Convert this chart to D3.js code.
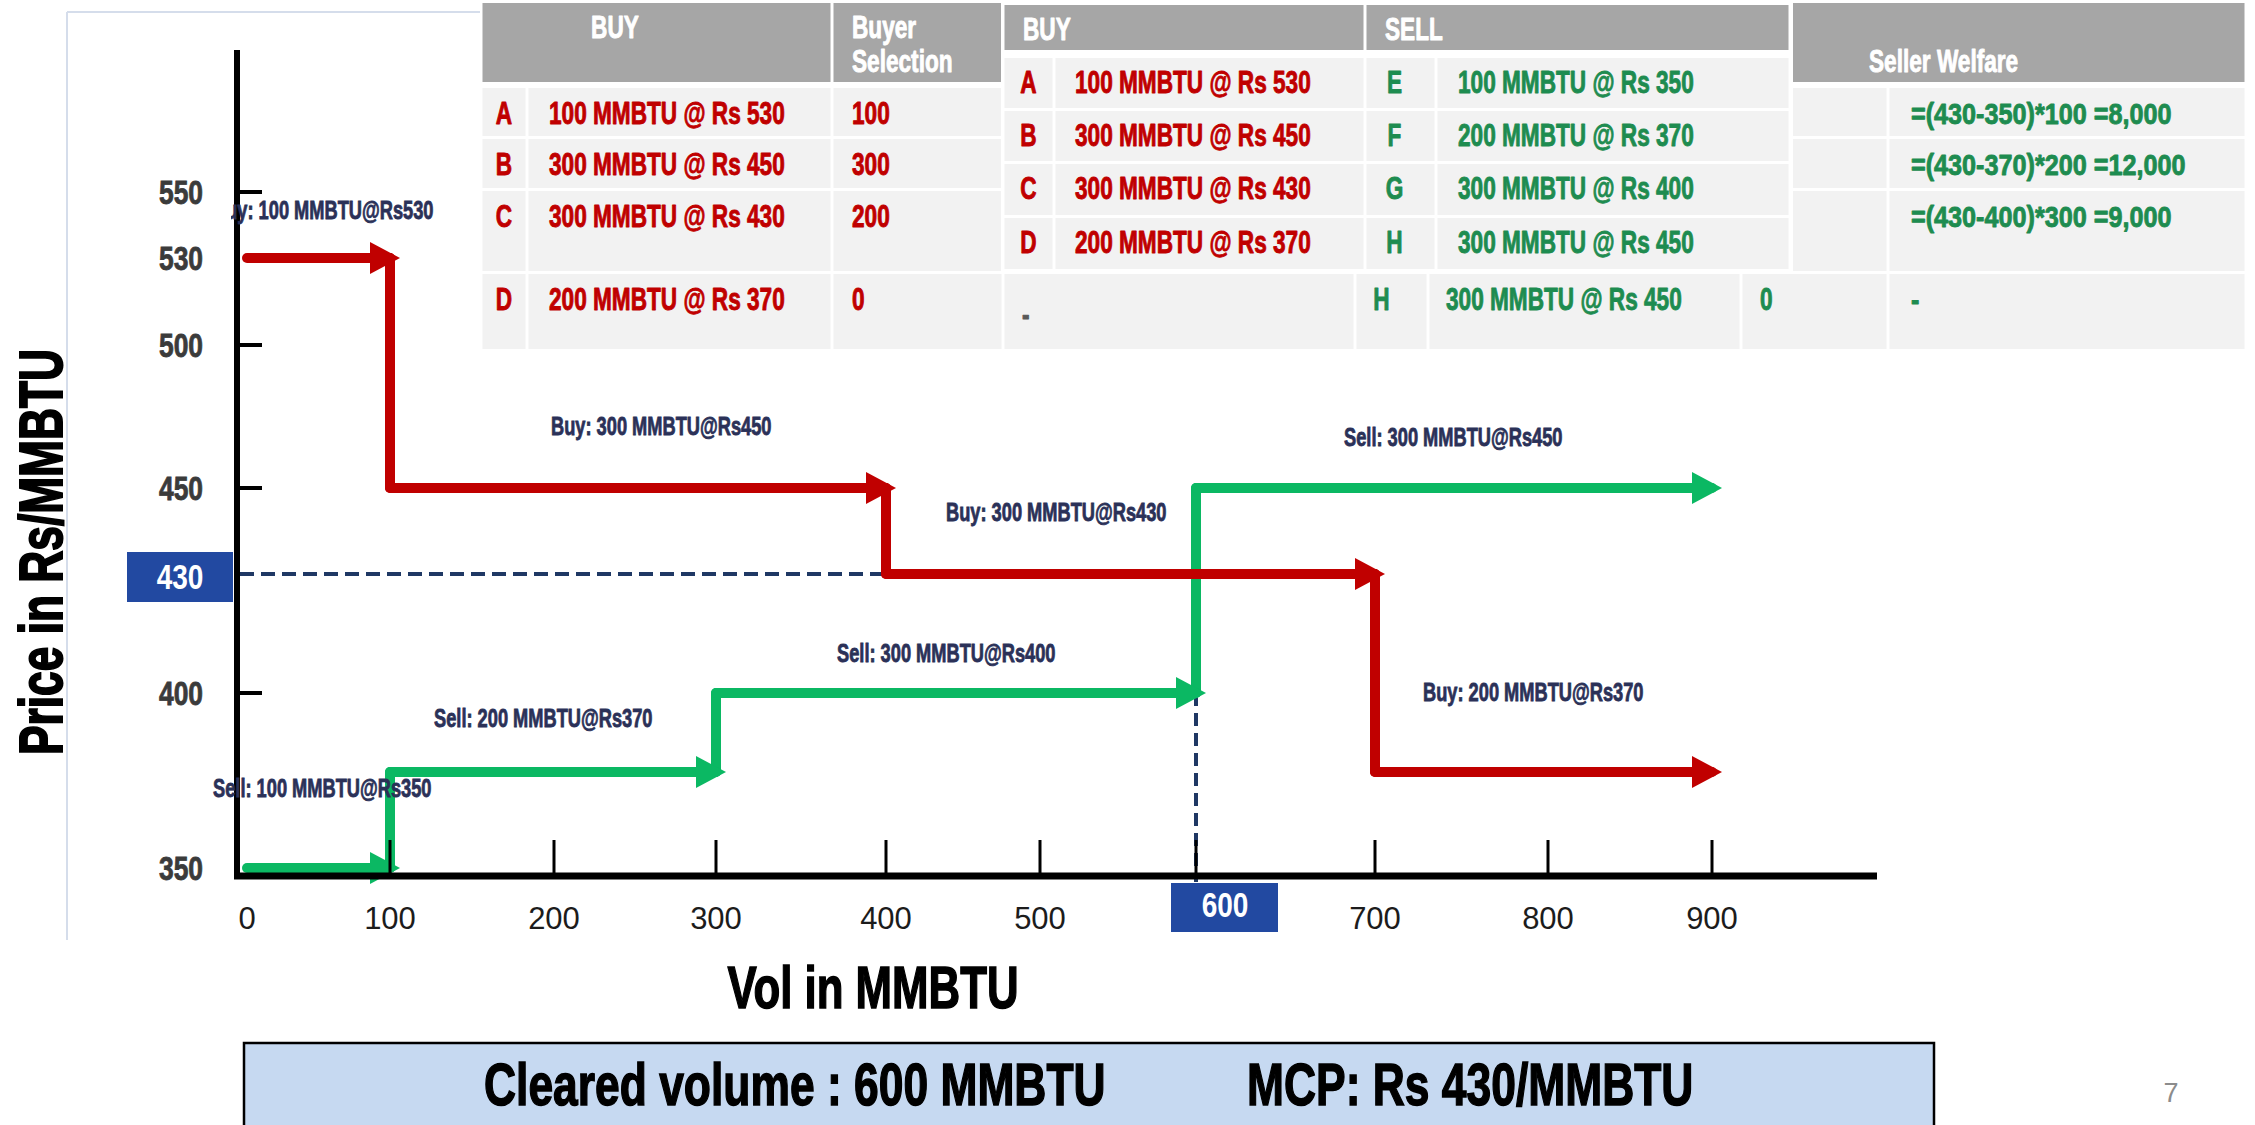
<!DOCTYPE html>
<html>
<head>
<meta charset="utf-8">
<script src="https://cdn.jsdelivr.net/npm/d3@7"></script>
<style>
  body { margin: 0; background: #fff; }
  svg { display: block; }
</style>
</head>
<body>
<svg id="chart"></svg>
<script>
// ---- data ----
const buyIds = ["A", "B", "C", "D"];
const buyQty = [100, 300, 300, 200];
const buyPrice = [530, 450, 430, 370];
const buyerSelection = [100, 300, 200, 0];

const sellIds = ["E", "F", "G", "H"];
const sellQty = [100, 200, 300, 300];
const sellPrice = [350, 370, 400, 450];
const sellerSelection = [100, 200, 300, 0];

const clearedVolume = 600;
const mcp = 430;

const volTicks = [0, 100, 200, 300, 400, 500, 600, 700, 800, 900];
const priceLabels = [550, 530, 500, 450, 400, 350];
const priceTicks = [550, 500, 450, 400];

// ---- layout / style ----
const W = 2255, H = 1125;
const FONT = "'Liberation Sans',Arial,sans-serif";
const RED = "#C00000", GREEN = "#0BB863";
const TXT_RED = "#C00000", TXT_GREEN = "#1E8C50";
const HEAD = "#A6A6A6", CELL = "#F2F2F2", NAVY = "#2B3158", BOXBLUE = "#2249A1";
const SQ = 0.73; // horizontal squeeze of Liberation Sans Bold, to look like the condensed slide face

// the slide graphic is schematic, so the scales are piecewise
const x = d3.scaleLinear()
  .domain(volTicks)
  .range([247, 390, 554, 716, 886, 1040, 1196, 1375, 1548, 1712]);
const y = d3.scaleLinear()
  .domain([350, 370, 400, 430, 450, 500, 530, 550])
  .range([868, 772, 693, 574, 488, 345, 258, 192]);
const axisY = 876, axisX = 237;

const svg = d3.select("#chart")
  .attr("width", W)
  .attr("height", H)
  .style("font-family", FONT)
  .style("font-weight", "bold");

// condensed text: drawn at origin, squeezed with a transform
function sText(g, tx, ty, s, k, extra) {
  return g.append("text")
    .attr("transform", `translate(${tx},${ty})${extra || ""} scale(${k},1)`)
    .text(s);
}

function steps(qty, price) {
  let c = 0;
  return qty.map((q, i) => {
    const s = c;
    c += q;
    return { s: s, e: c, q: q, p: price[i] };
  });
}
const buySteps = steps(buyQty, buyPrice);
const sellSteps = steps(sellQty, sellPrice);
const fmt = d3.format(",");

// faint frame of the pasted chart picture
svg.append("line").attr("x1", 67).attr("y1", 12).attr("x2", 67).attr("y2", 940)
  .attr("stroke", "#d5ddeb").attr("stroke-width", 2);
svg.append("line").attr("x1", 67).attr("y1", 12).attr("x2", 480).attr("y2", 12)
  .attr("stroke", "#d5ddeb").attr("stroke-width", 2);

// ---- table behind (buy + sell, with welfare) ----
const t1Cols = [481, 527, 832, 1003, 1355, 1428, 1741, 1888, 2246];
const t1Rows = [[3, 82], [88, 136], [139, 188], [191, 271], [274, 349]];
const t2Cols = [1003, 1054, 1365, 1436, 1790];
const t2Rows = [[5, 50], [58, 108], [111, 161], [164, 215], [218, 269]];
const gap = 1.5;

const t1 = svg.append("g");
[[481, 832], [832, 1003], [1003, 2246]].forEach(([a, b]) => {
  t1.append("rect").attr("x", a + gap).attr("y", t1Rows[0][0])
    .attr("width", b - a - 2 * gap).attr("height", t1Rows[0][1] - t1Rows[0][0])
    .attr("fill", HEAD);
});
t1Rows.slice(1).forEach(([top, bot]) => {
  t1Cols.slice(0, -1).forEach((c, j) => {
    t1.append("rect").attr("x", c + gap).attr("y", top)
      .attr("width", t1Cols[j + 1] - c - 2 * gap).attr("height", bot - top)
      .attr("fill", CELL);
  });
});

function cellText(g, tx, ty, s, color, anchor, size, k) {
  return sText(g, tx, ty, s, k || SQ)
    .attr("text-anchor", anchor || "start")
    .attr("font-size", size || 31)
    .attr("fill", color)
    .attr("stroke", color)
    .attr("stroke-width", 0.9)
    .attr("stroke-linejoin", "round");
}

cellText(t1, 615, 38, "BUY", "#fff", "middle");
cellText(t1, 852, 38, "Buyer", "#fff");
cellText(t1, 852, 72, "Selection", "#fff");
cellText(t1, 1869, 72, "Seller Welfare", "#fff");

const t2Bottom = t2Rows[t2Rows.length - 1][1];
buyIds.forEach((id, i) => {
  const top = t1Rows[i + 1][0];
  const bl = top + 36;
  cellText(t1, (t1Cols[0] + t1Cols[1]) / 2, bl, id, TXT_RED, "middle");
  cellText(t1, t1Cols[1] + 22, bl, `${buyQty[i]} MMBTU @ Rs ${buyPrice[i]}`, TXT_RED);
  cellText(t1, t1Cols[2] + 20, bl, buyerSelection[i], TXT_RED);
  // sell side of this table is only visible below the front table
  if (top > t2Bottom) {
    if (buyerSelection[i] === 0) cellText(t1, t1Cols[3] + 19, top + 51, "-", "#595959");
    cellText(t1, (t1Cols[4] + t1Cols[5]) / 2 - 10, bl, sellIds[i], TXT_GREEN, "middle");
    cellText(t1, t1Cols[5] + 18, bl, `${sellQty[i]} MMBTU @ Rs ${sellPrice[i]}`, TXT_GREEN);
    cellText(t1, t1Cols[6] + 19, bl, sellerSelection[i], TXT_GREEN);
  }
  const sq = sellerSelection[i];
  const welfare = sq > 0
    ? `=(${mcp}-${sellPrice[i]})*${sq} =${fmt((mcp - sellPrice[i]) * sq)}`
    : "-";
  cellText(t1, t1Cols[7] + 23, bl, welfare, TXT_GREEN, "start", 30, 0.84);
});

// ---- front table (BUY / SELL orders) ----
const t2 = svg.append("g");
t2.append("rect").attr("x", 1001).attr("y", 1).attr("width", 792).attr("height", 271).attr("fill", "#fff");
[[t2Cols[0], t2Cols[2]], [t2Cols[2], t2Cols[4]]].forEach(([a, b]) => {
  t2.append("rect").attr("x", a + gap).attr("y", t2Rows[0][0])
    .attr("width", b - a - 2 * gap).attr("height", t2Rows[0][1] - t2Rows[0][0])
    .attr("fill", HEAD);
});
t2Rows.slice(1).forEach(([top, bot]) => {
  t2Cols.slice(0, -1).forEach((c, j) => {
    t2.append("rect").attr("x", c + gap).attr("y", top)
      .attr("width", t2Cols[j + 1] - c - 2 * gap).attr("height", bot - top)
      .attr("fill", CELL);
  });
});
cellText(t2, t2Cols[0] + 20, 40, "BUY", "#fff");
cellText(t2, t2Cols[2] + 20, 40, "SELL", "#fff");
buyIds.forEach((id, i) => {
  const bl = t2Rows[i + 1][0] + 35;
  cellText(t2, (t2Cols[0] + t2Cols[1]) / 2, bl, id, TXT_RED, "middle");
  cellText(t2, t2Cols[1] + 21, bl, `${buyQty[i]} MMBTU @ Rs ${buyPrice[i]}`, TXT_RED);
  cellText(t2, (t2Cols[2] + t2Cols[3]) / 2 - 6, bl, sellIds[i], TXT_GREEN, "middle");
  cellText(t2, t2Cols[3] + 22, bl, `${sellQty[i]} MMBTU @ Rs ${sellPrice[i]}`, TXT_GREEN);
});

// ---- chart ----
const defs = svg.append("defs");
[["arrRed", RED], ["arrGreen", GREEN]].forEach(([id, col]) => {
  defs.append("marker")
    .attr("id", id)
    .attr("viewBox", "0 0 30 32")
    .attr("markerUnits", "userSpaceOnUse")
    .attr("markerWidth", 30)
    .attr("markerHeight", 32)
    .attr("refX", 20)
    .attr("refY", 16)
    .attr("orient", "auto")
    .append("path")
    .attr("d", "M0,0 L30,16 L0,32 Z")
    .attr("fill", col);
});
defs.append("clipPath").attr("id", "clipA")
  .append("rect").attr("x", 231).attr("y", 0).attr("width", W).attr("height", H);

// MCP / cleared volume guides
const mcpStart = buySteps.find(d => d.p === mcp).s;
const sellAtCleared = sellSteps.find(d => d.e === clearedVolume).p;
svg.append("line")
  .attr("x1", axisX + 3).attr("x2", x(mcpStart))
  .attr("y1", y(mcp)).attr("y2", y(mcp))
  .attr("stroke", "#1F3864").attr("stroke-width", 4).attr("stroke-dasharray", "14,7");
svg.append("line")
  .attr("x1", x(clearedVolume)).attr("x2", x(clearedVolume))
  .attr("y1", y(sellAtCleared)).attr("y2", axisY + 6)
  .attr("stroke", "#1F3864").attr("stroke-width", 4).attr("stroke-dasharray", "13,7");

function drawSteps(data, color, marker) {
  const g = svg.append("g")
    .attr("stroke", color)
    .attr("stroke-width", 10)
    .attr("stroke-linecap", "round")
    .attr("fill", "none");
  data.forEach((d, i) => {
    if (i < data.length - 1) {
      g.append("path")
        .attr("d", d3.line()([[x(d.e), y(d.p)], [x(d.e), y(data[i + 1].p)]]));
    }
  });
  g.selectAll("path.h")
    .data(data)
    .join("path")
    .attr("class", "h")
    .attr("d", d => d3.line()([[x(d.s), y(d.p)], [x(d.e), y(d.p)]]))
    .attr("marker-end", `url(#${marker})`);
}
drawSteps(sellSteps, GREEN, "arrGreen");
drawSteps(buySteps, RED, "arrRed");

// axes
svg.append("line").attr("x1", axisX).attr("x2", axisX).attr("y1", 50).attr("y2", axisY + 3)
  .attr("stroke", "#000").attr("stroke-width", 6);
svg.append("line").attr("x1", axisX - 3).attr("x2", 1877).attr("y1", axisY).attr("y2", axisY)
  .attr("stroke", "#000").attr("stroke-width", 7);
svg.selectAll("line.ytick")
  .data(priceTicks)
  .join("line")
  .attr("class", "ytick")
  .attr("x1", axisX).attr("x2", axisX + 25)
  .attr("y1", d => y(d)).attr("y2", d => y(d))
  .attr("stroke", "#000").attr("stroke-width", 4);
svg.selectAll("line.xtick")
  .data(volTicks.slice(1))
  .join("line")
  .attr("class", "xtick")
  .attr("x1", d => x(d)).attr("x2", d => x(d))
  .attr("y1", axisY - 36).attr("y2", axisY)
  .attr("stroke", "#000").attr("stroke-width", 3);

// y tick labels
svg.selectAll("text.ylab")
  .data(priceLabels)
  .join("text")
  .attr("class", "ylab")
  .attr("transform", d => `translate(203,${y(d) + 12}) scale(0.8,1)`)
  .attr("text-anchor", "end")
  .attr("font-size", 33)
  .attr("fill", "#3b3b3b")
  .attr("stroke", "#3b3b3b")
  .attr("stroke-width", 0.8)
  .text(d => d);
svg.append("rect").attr("x", 127).attr("y", y(mcp) - 22).attr("width", 106).attr("height", 50)
  .attr("fill", BOXBLUE);
sText(svg, 180, y(mcp) + 15, mcp, 0.8)
  .attr("text-anchor", "middle").attr("font-size", 35).attr("fill", "#fff");

// x tick labels
svg.selectAll("text.xlab")
  .data(volTicks.filter(v => v !== clearedVolume))
  .join("text")
  .attr("class", "xlab")
  .attr("x", d => x(d))
  .attr("y", 929)
  .attr("text-anchor", "middle")
  .attr("font-weight", "normal")
  .attr("font-size", 31)
  .attr("fill", "#1c1c1c")
  .text(d => d);
svg.append("rect").attr("x", x(clearedVolume) - 25).attr("y", 883).attr("width", 107).attr("height", 49)
  .attr("fill", BOXBLUE);
sText(svg, x(clearedVolume) + 29, 917, clearedVolume, 0.8)
  .attr("text-anchor", "middle").attr("font-size", 35).attr("fill", "#fff");

// step labels (offsets from each step's start, layout only)
const buyLabelOff = [[-34, -39], [161, -53], [60, -53], [48, -71]];
const sellLabelOff = [[-34, -71], [44, -45], [121, -31], [148, -42]];
const labels = svg.append("g")
  .attr("font-size", 25)
  .attr("fill", NAVY)
  .attr("stroke", NAVY)
  .attr("stroke-width", 0.8);
buySteps.forEach((d, i) => {
  const t = sText(labels, x(d.s) + buyLabelOff[i][0], y(d.p) + buyLabelOff[i][1],
    `Buy: ${d.q} MMBTU@Rs${d.p}`, SQ);
  if (i === 0) {
    // the start of the first label is hidden on the slide
    labels.append("g").attr("clip-path", "url(#clipA)").node().appendChild(t.node());
  }
});
sellSteps.forEach((d, i) => {
  sText(labels, x(d.s) + sellLabelOff[i][0], y(d.p) + sellLabelOff[i][1],
    `Sell: ${d.q} MMBTU@Rs${d.p}`, SQ);
});

// axis titles
sText(svg, 62, 552, "Price in Rs/MMBTU", 0.726, " rotate(-90)")
  .attr("text-anchor", "middle")
  .attr("font-size", 61)
  .attr("fill", "#000")
  .attr("stroke", "#000")
  .attr("stroke-width", 2);
sText(svg, 873, 1008, "Vol in MMBTU", SQ)
  .attr("text-anchor", "middle")
  .attr("font-size", 60)
  .attr("fill", "#000")
  .attr("stroke", "#000")
  .attr("stroke-width", 1.5);

// summary box
svg.append("rect").attr("x", 244).attr("y", 1043).attr("width", 1690).attr("height", 100)
  .attr("fill", "#C6D9F1").attr("stroke", "#000").attr("stroke-width", 2.5);
sText(svg, 484, 1105, `Cleared volume : ${clearedVolume} MMBTU`, 0.74)
  .attr("font-size", 60).attr("fill", "#000").attr("stroke", "#000").attr("stroke-width", 1.5);
sText(svg, 1247, 1105, `MCP: Rs ${mcp}/MMBTU`, 0.74)
  .attr("font-size", 60).attr("fill", "#000").attr("stroke", "#000").attr("stroke-width", 1.5);

// slide number
svg.append("text").attr("x", 2171).attr("y", 1102).attr("text-anchor", "middle")
  .attr("font-weight", "normal").attr("font-size", 27).attr("fill", "#8c8c8c").text("7");
</script>
</body>
</html>
